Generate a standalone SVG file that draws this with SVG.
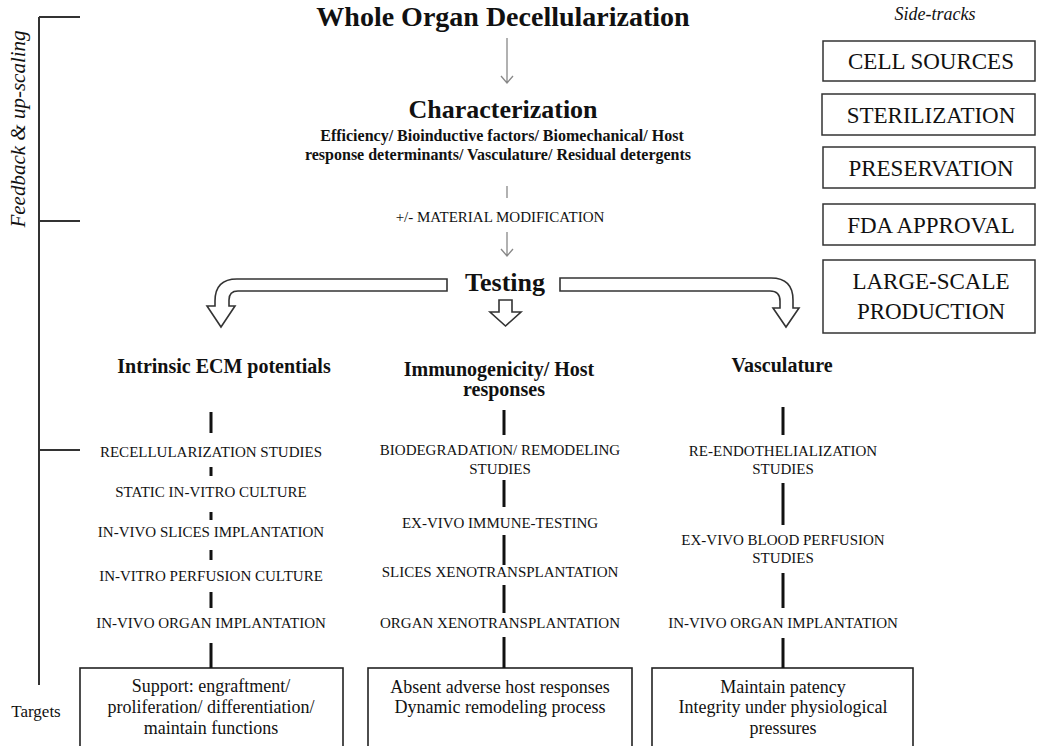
<svg xmlns="http://www.w3.org/2000/svg" width="1037" height="746" viewBox="0 0 1037 746">
<defs>
<style>
text{font-family:"Liberation Serif","Times New Roman",serif;fill:#111;}
.b{font-weight:bold;}
.it{font-style:italic;}
.c{text-anchor:middle;}
.lab{font-size:15px;}
.box{fill:#fff;stroke:#222;stroke-width:1.6;}
.sbox{fill:#fff;stroke:#333;stroke-width:1.5;}
.thin{stroke:#888;stroke-width:1.3;fill:none;}
.bar{stroke:#111;stroke-width:3;}
.brk{stroke:#333;stroke-width:2;fill:none;}
.hollow{fill:#fff;stroke:#333;stroke-width:1.6;stroke-linejoin:miter;}
</style>
</defs>
<rect width="1037" height="746" fill="#fff"/>

<g id="bracket">
<path class="brk" d="M39,17 V685 M39,17 H80 M39,221 H80 M39,450 H80"/>
<text class="it c" font-size="21" transform="translate(25,129) rotate(-90)">Feedback &amp; up-scaling</text>
<text x="36" y="717" class="c" font-size="17">Targets</text>
</g>

<g id="title"><text x="503" y="26" class="b c" font-size="28">Whole Organ Decellularization</text></g>
<g id="characterization">
<text x="503" y="118" class="b c" font-size="26">Characterization</text>
<text x="502" y="141" class="b c" font-size="16">Efficiency/ Bioinductive factors/ Biomechanical/ Host</text>
<text x="498" y="160" class="b c" font-size="16">response determinants/ Vasculature/ Residual detergents</text>
</g>
<g id="material"><text x="500" y="222" class="c" font-size="15">+/- MATERIAL MODIFICATION</text></g>
<g id="testing"><text x="505" y="291" class="b c" font-size="26">Testing</text></g>

<g id="sidetracks">
<text x="935" y="20" class="it c" font-size="18">Side-tracks</text>
<g id="cell-sources"><rect class="sbox" x="823" y="41" width="212" height="40"/><text x="931" y="69" class="c" font-size="23">CELL SOURCES</text></g>
<g id="sterilization"><rect class="sbox" x="822" y="94" width="213" height="41"/><text x="931" y="123" class="c" font-size="23">STERILIZATION</text></g>
<g id="preservation"><rect class="sbox" x="823" y="147" width="212" height="41"/><text x="931" y="176" class="c" font-size="23">PRESERVATION</text></g>
<g id="fda-approval"><rect class="sbox" x="823" y="204" width="212" height="41"/><text x="931" y="233" class="c" font-size="23">FDA APPROVAL</text></g>
<g id="large-scale"><rect class="sbox" x="823" y="260" width="212" height="73"/><text x="931" y="289" class="c" font-size="23">LARGE-SCALE</text><text x="931" y="319" class="c" font-size="23">PRODUCTION</text></g>
</g>

<g id="col1">
<text x="224" y="373" class="b c" font-size="20">Intrinsic ECM potentials</text>
<text x="211" y="457" class="c lab">RECELLULARIZATION STUDIES</text>
<text x="211" y="497" class="c lab">STATIC IN-VITRO CULTURE</text>
<text x="211" y="537" class="c lab">IN-VIVO SLICES IMPLANTATION</text>
<text x="211" y="581" class="c lab">IN-VITRO PERFUSION CULTURE</text>
<text x="211" y="628" class="c lab">IN-VIVO ORGAN IMPLANTATION</text>
</g>
<g id="target1"><rect class="box" x="80" y="668" width="263" height="100"/>
<text x="211" y="692" class="c" font-size="18">Support: engraftment/</text>
<text x="211" y="713" class="c" font-size="18">proliferation/ differentiation/</text>
<text x="211" y="734" class="c" font-size="18">maintain functions</text></g>

<g id="col2">
<text x="499" y="376" class="b c" font-size="20">Immunogenicity/ Host</text>
<text x="504" y="396" class="b c" font-size="20">responses</text>
<text x="500" y="455" class="c lab">BIODEGRADATION/ REMODELING</text>
<text x="500" y="474" class="c lab">STUDIES</text>
<text x="500" y="528" class="c lab">EX-VIVO IMMUNE-TESTING</text>
<text x="500" y="577" class="c lab">SLICES XENOTRANSPLANTATION</text>
<text x="500" y="628" class="c lab">ORGAN XENOTRANSPLANTATION</text>
</g>
<g id="target2"><rect class="box" x="368" y="668" width="264" height="100"/>
<text x="500" y="693" class="c" font-size="18">Absent adverse host responses</text>
<text x="500" y="713" class="c" font-size="18">Dynamic remodeling process</text></g>

<g id="col3">
<text x="782" y="372" class="b c" font-size="20">Vasculature</text>
<text x="783" y="456" class="c lab">RE-ENDOTHELIALIZATION</text>
<text x="783" y="474" class="c lab">STUDIES</text>
<text x="783" y="545" class="c lab">EX-VIVO BLOOD PERFUSION</text>
<text x="783" y="563" class="c lab">STUDIES</text>
<text x="783" y="628" class="c lab">IN-VIVO ORGAN IMPLANTATION</text>
</g>
<g id="target3"><rect class="box" x="652" y="668" width="261" height="100"/>
<text x="783" y="693" class="c" font-size="18">Maintain patency</text>
<text x="783" y="713" class="c" font-size="18">Integrity under physiological</text>
<text x="783" y="734" class="c" font-size="18">pressures</text></g>

<g id="connectors">
<path class="thin" d="M507,38 V83 M501,76 L507,83 L513,76"/>
<path class="thin" d="M507,186 V198"/>
<path class="thin" d="M507,232 V256 M501,249 L507,256 L513,249"/>
<path class="hollow" d="M447,279 H237 Q215,279 215,301 V306 H207 L221,327 L235,306 H229 V300 Q229,291 238,291 H447 Z"/>
<path class="hollow" d="M499,300 H512 V312 H521 L505.5,326 L490,312 H499 Z"/>
<path class="hollow" d="M560,278 H771 Q793,278 793,300 V308 H799 L786,327 L773,308 H780 V301 Q780,291 770,291 H560 Z"/>
<path class="bar" d="M211,412 V433 M211,467 V476 M211,512 V520 M211,550 V560 M211,592 V608 M211,643 V668"/>
<path class="bar" d="M504,410 V435 M504,480 V507 M504,535 V565 M504,585 V613 M504,637 V668"/>
<path class="bar" d="M783,407 V435 M783,483 V525 M783,573 V608 M783,638 V668"/>
</g>
</svg>
